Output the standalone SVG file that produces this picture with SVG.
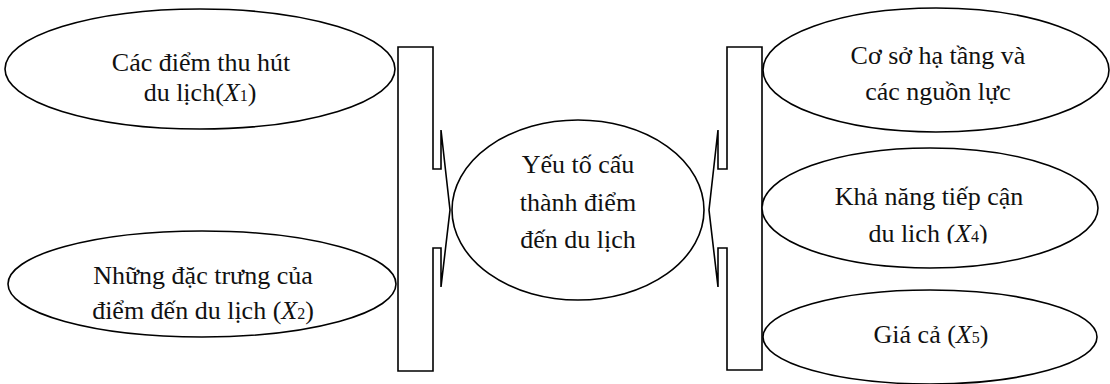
<svg xmlns="http://www.w3.org/2000/svg" width="1110" height="384" viewBox="0 0 1110 384">
<style>
.shape{fill:#fff;stroke:#000;stroke-width:1.6}
.t{font-family:"Liberation Serif","Times New Roman",serif;font-size:26px;fill:#111;text-anchor:middle}
.x{font-style:italic}
.s{font-size:16px}
</style>
<defs>
<clipPath id="cut"><rect x="760" y="150" width="350" height="93.5"/></clipPath>
</defs>
<rect width="1110" height="384" fill="#fff"/>
<g id="connectors">
<path class="shape" d="M398,47 H433 V169 H441 V130 L450,210 L441,287 V248 H433 V371 H398 Z"/>
<path class="shape" d="M762,47 H727 V169 H718 V130 L709,210 L718,287 V248 H727 V370 H762 Z"/>
</g>
<g id="x1">
<ellipse class="shape" cx="200" cy="69" rx="195" ry="60"/>
<text class="t" x="201" y="71">Các điểm thu hút</text>
<text class="t" x="200" y="101">du lịch(<tspan class="x">X</tspan><tspan class="s">1</tspan>)</text>
</g>
<g id="x2">
<ellipse class="shape" cx="202" cy="284" rx="194" ry="53"/>
<text class="t" x="203" y="284">Những đặc trưng của</text>
<text class="t" x="203" y="319">điểm đến du lịch (<tspan class="x">X</tspan><tspan class="s">2</tspan>)</text>
</g>
<g id="center">
<ellipse class="shape" cx="578" cy="210" rx="126" ry="90"/>
<text class="t" x="578" y="173">Yếu tố cấu</text>
<text class="t" x="578" y="211">thành điểm</text>
<text class="t" x="578" y="248">đến du lịch</text>
</g>
<g id="x3">
<ellipse class="shape" cx="936" cy="70" rx="173" ry="62"/>
<text class="t" x="938" y="64">Cơ sở hạ tầng và</text>
<text class="t" x="938" y="100">các nguồn lực</text>
</g>
<g id="x4">
<ellipse class="shape" cx="930" cy="208" rx="168" ry="60"/>
<text class="t" x="929" y="205">Khả năng tiếp cận</text>
<text class="t" x="928" y="242" clip-path="url(#cut)">du lich (<tspan class="x">X</tspan><tspan class="s">4</tspan>)</text>
</g>
<g id="x5">
<ellipse class="shape" cx="930" cy="337" rx="167" ry="47"/>
<text class="t" x="931" y="343">Giá cả (<tspan class="x">X</tspan><tspan class="s">5</tspan>)</text>
</g>
</svg>
